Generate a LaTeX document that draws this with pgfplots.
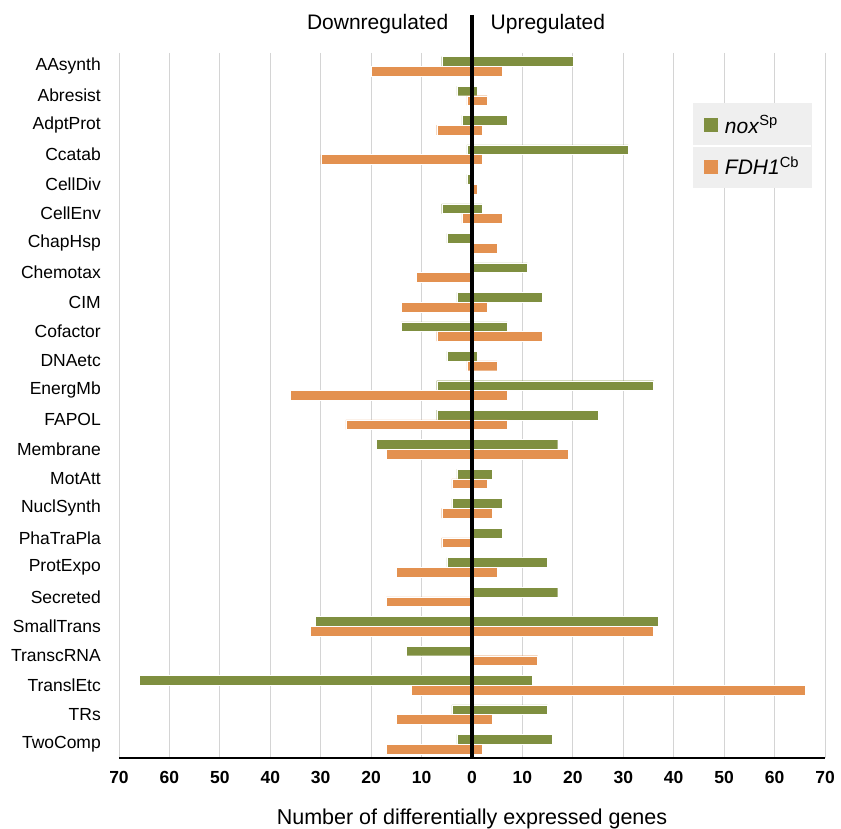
\documentclass[border=0pt]{standalone}
\usepackage{fontspec}
\setmainfont{Liberation Sans}
\usepackage{pgfplots}
\pgfplotsset{compat=1.18}
\definecolor{noxgreen}{RGB}{127,143,64}
\definecolor{fdhorange}{RGB}{227,145,80}
\definecolor{leggray}{RGB}{239,239,239}
\begin{document}
\begin{tikzpicture}[x=1pt,y=1pt]
\useasboundingbox (-119,-71) rectangle (722,758);
\begin{axis}[
  scale only axis, width=706pt, height=705pt,
  xmin=-70, xmax=70, ymin=-0.45, ymax=23.47, y dir=reverse,
  clip=false,
  xbar, bar width=0.33,
  xtick={-70,-60,...,70},
  xticklabels={70,60,50,40,30,20,10,0,10,20,30,40,50,60,70},
  ytick={0,...,23},
  yticklabels={AAsynth,Abresist,AdptProt,Ccatab,CellDiv,CellEnv,ChapHsp,Chemotax,CIM,Cofactor,DNAetc,EnergMb,FAPOL,Membrane,MotAtt,NuclSynth,PhaTraPla,ProtExpo,Secreted,SmallTrans,TranscRNA,TranslEtc,TRs,TwoComp},
  xmajorgrids, grid style={draw=black!17, line width=0.9pt},
  axis x line*=bottom, axis y line*=left,
  x axis line style={draw=black, line width=1.4pt},
  y axis line style={draw=none},
  major tick length=0pt,
  xticklabel style={font=\fontsize{17.5}{20}\selectfont\bfseries, yshift=-10pt},
  yticklabel style={font=\fontsize{17.5}{20}\selectfont, anchor=east, inner sep=0pt, xshift=-18pt},
  xlabel={Number of differentially expressed genes},
  xlabel style={font=\fontsize{21.5}{25}\selectfont, at={(axis description cs:0.5,0)}, anchor=center, yshift=-61pt},
  legend style={at={(axis description cs:0.982,0.929)}, anchor=north east,
    fill=leggray, draw=none, font=\fontsize{21}{25}\selectfont,
    inner xsep=11pt, inner ysep=10pt, row sep=18pt,
    /tikz/every odd column/.append style={column sep=6pt}},
  legend cell align=left,
]
\addplot[fill=noxgreen, draw=white, line width=0.4pt, bar shift=-0.165,
  legend image code/.code={\fill[noxgreen] (0pt,-6.5pt) rectangle (13pt,6.5pt);}]
  coordinates {
  (20,0) (-6,0)
  (1,1) (-3,1)
  (7,2) (-2,2)
  (31,3) (-1,3)
  (-1,4)
  (2,5) (-6,5)
  (-5,6)
  (11,7)
  (14,8) (-3,8)
  (7,9) (-14,9)
  (1,10) (-5,10)
  (36,11) (-7,11)
  (25,12) (-7,12)
  (17,13) (-19,13)
  (4,14) (-3,14)
  (6,15) (-4,15)
  (6,16)
  (15,17) (-5,17)
  (17,18)
  (37,19) (-31,19)
  (-13,20)
  (12,21) (-66,21)
  (15,22) (-4,22)
  (16,23) (-3,23)
  };
\addlegendentry{\textit{nox}\textsuperscript{Sp}}
\addplot[fill=fdhorange, draw=white, line width=0.4pt, bar shift=0.165,
  legend image code/.code={\fill[fdhorange] (0pt,-6.5pt) rectangle (13pt,6.5pt);}]
  coordinates {
  (6,0) (-20,0)
  (3,1) (-1,1)
  (2,2) (-7,2)
  (2,3) (-30,3)
  (1,4)
  (6,5) (-2,5)
  (5,6)
  (-11,7)
  (3,8) (-14,8)
  (14,9) (-7,9)
  (5,10) (-1,10)
  (7,11) (-36,11)
  (7,12) (-25,12)
  (19,13) (-17,13)
  (3,14) (-4,14)
  (4,15) (-6,15)
  (-6,16)
  (5,17) (-15,17)
  (-17,18)
  (36,19) (-32,19)
  (13,20)
  (66,21) (-12,21)
  (4,22) (-15,22)
  (2,23) (-17,23)
  };
\addlegendentry{\textit{FDH1}\textsuperscript{Cb}}
\draw[black, line width=3.4pt] (axis cs:0,-1.74) -- (axis cs:0,23.47);
\node[anchor=east, font=\fontsize{21}{25}\selectfont, inner sep=0pt] at (axis cs:-4.66,-1.43) {Downregulated};
\node[anchor=west, font=\fontsize{21}{25}\selectfont, inner sep=0pt] at (axis cs:3.67,-1.43) {Upregulated};
\coordinate (sepL) at (axis cs:43.6,2.70);
\coordinate (sepR) at (axis cs:67.3,2.70);
\end{axis}
\draw[white, line width=1.8pt] (sepL) -- (sepR);
\end{tikzpicture}
\end{document}
